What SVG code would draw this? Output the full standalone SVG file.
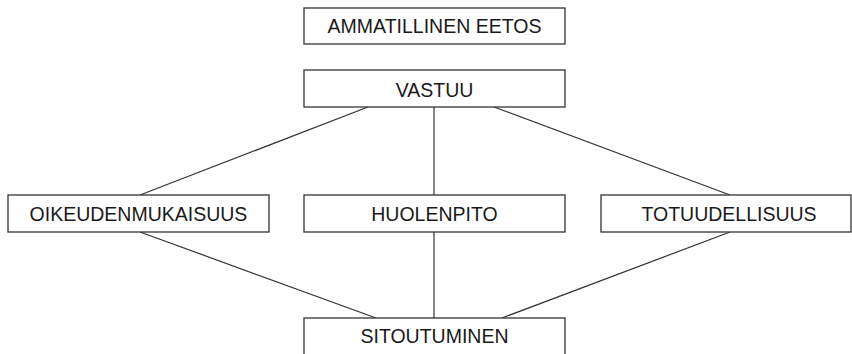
<svg xmlns="http://www.w3.org/2000/svg" width="852" height="354" viewBox="0 0 852 354">
<style>
.box{fill:#fff;stroke:#333;stroke-width:1.3}
.lbl{font-family:"Liberation Sans",Arial,sans-serif;font-size:19.5px;fill:#1a1a1a;text-anchor:middle}
.con{stroke:#333;stroke-width:1.2;fill:none}
</style>
<rect width="852" height="354" fill="#fff"/>
<g id="connectors">
<line class="con" x1="368" y1="107" x2="140" y2="195"/>
<line class="con" x1="434" y1="107" x2="434" y2="195"/>
<line class="con" x1="494" y1="107" x2="730" y2="195"/>
<line class="con" x1="140" y1="232" x2="376" y2="318"/>
<line class="con" x1="434" y1="232" x2="434" y2="318"/>
<line class="con" x1="730" y1="232" x2="502" y2="318"/>
</g>
<g id="eetos"><rect class="box" x="304" y="8" width="261" height="36"/><text class="lbl" x="434.5" y="33">AMMATILLINEN EETOS</text></g>
<g id="vastuu"><rect class="box" x="304" y="70" width="261" height="37"/><text class="lbl" x="434.5" y="96.5">VASTUU</text></g>
<g id="oikeudenmukaisuus"><rect class="box" x="8" y="195" width="261" height="37"/><text class="lbl" x="138.5" y="220.5">OIKEUDENMUKAISUUS</text></g>
<g id="huolenpito"><rect class="box" x="304" y="195" width="261" height="37"/><text class="lbl" x="434.5" y="220.5">HUOLENPITO</text></g>
<g id="totuudellisuus"><rect class="box" x="601" y="195" width="250" height="37"/><text class="lbl" x="729" y="220.5">TOTUUDELLISUUS</text></g>
<g id="sitoutuminen"><rect class="box" x="304" y="318" width="261" height="50"/><text class="lbl" x="434.5" y="343">SITOUTUMINEN</text></g>
</svg>
